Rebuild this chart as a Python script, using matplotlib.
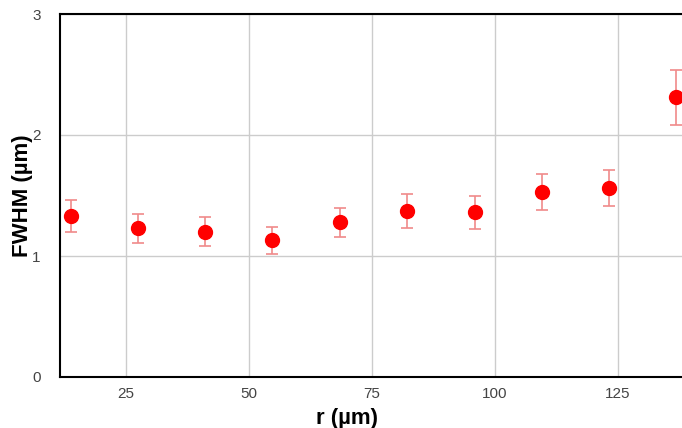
import matplotlib.pyplot as plt

# данные
r = [13.8, 27.5, 41.1, 54.7, 68.5, 82.1, 95.9, 109.6, 123.2, 136.8]
fwhm = [1.33, 1.23, 1.20, 1.13, 1.28, 1.37, 1.36, 1.53, 1.56, 2.31]
err = [0.13, 0.12, 0.12, 0.11, 0.12, 0.14, 0.14, 0.15, 0.15, 0.23]
x_ticks = [25, 50, 75, 100, 125]
y_ticks = [0, 1, 2, 3]

plt.rcParams['font.family'] = ['Liberation Sans', 'DejaVu Sans']

fig = plt.figure(figsize=(6.82, 4.28), dpi=100)
ax = fig.add_axes([60 / 682, 51 / 428, 622 / 682, 363 / 428])

ax.errorbar(r, fwhm, yerr=err, fmt='o', color='#ff0000', markersize=10,
            ecolor='#f08a8a', elinewidth=1.2, capsize=4.5, capthick=1.2, zorder=3)

ax.set_xlim(11.6, 138)
ax.set_ylim(0, 3)
ax.set_xticks(x_ticks)
ax.set_yticks(y_ticks)
ax.grid(True, color='#cccccc', linewidth=1)
ax.set_axisbelow(True)

for side in ['left', 'bottom', 'top']:
    ax.spines[side].set_color('black')
    ax.spines[side].set_linewidth(1.5)
ax.spines['right'].set_visible(False)

ax.tick_params(length=0, labelsize=11, labelcolor='#444444')
ax.tick_params(axis='x', pad=7)
ax.tick_params(axis='y', pad=14)

# подписи осей
ax.set_xlabel('r (µm)', fontsize=16, fontweight='bold')
ax.xaxis.set_label_coords((347 - 60) / 622, -0.085)
ax.set_ylabel('FWHM (µm)', fontsize=16, fontweight='bold')
ax.yaxis.set_label_coords((33 - 60) / 622, 0.5)

fig.savefig('out.png', dpi=100)
